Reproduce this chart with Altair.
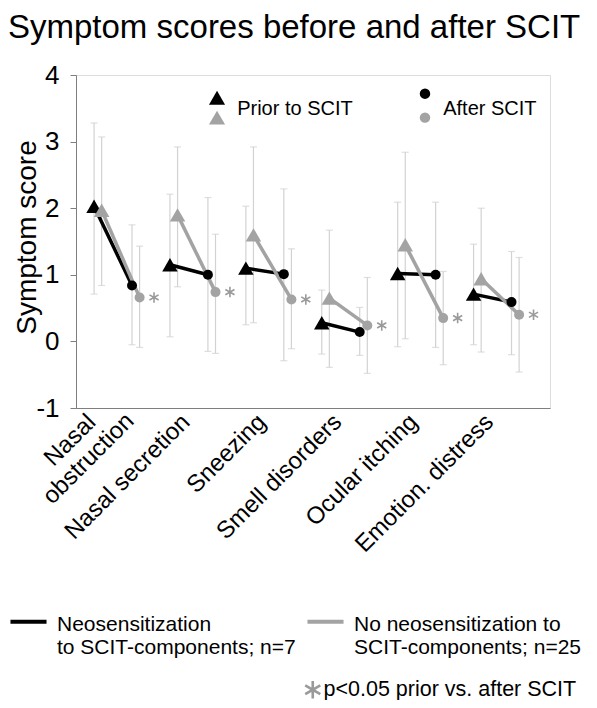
import altair as alt
import pandas as pd

# ---------------- data ----------------
categories = ["Nasal obstruction", "Nasal secretion", "Sneezing",
              "Smell disorders", "Ocular itching", "Emotion. distress"]
group_names = ["Neosensitization to SCIT-components; n=7",
               "No neosensitization to SCIT-components; n=25"]
time_names = ["Prior to SCIT", "After SCIT"]
note_text = "p<0.05 prior vs. after SCIT"

# Neosensitization group (black)
neo_prior_mean = [2.03, 1.15, 1.10, 0.28, 1.02, 0.71]
neo_prior_low = [0.71, 0.07, 0.25, -0.19, -0.08, -0.05]
neo_prior_high = [3.28, 2.21, 2.03, 0.77, 2.09, 1.46]
neo_after_mean = [0.84, 1.00, 1.01, 0.14, 1.00, 0.59]
neo_after_low = [-0.05, -0.15, -0.29, -0.21, -0.09, -0.20]
neo_after_high = [1.75, 2.16, 2.29, 0.51, 2.09, 1.35]

# No neosensitization group (grey)
noneo_prior_mean = [1.97, 1.90, 1.60, 0.65, 1.45, 0.94]
noneo_prior_low = [0.84, 0.82, 0.28, -0.39, 0.04, -0.16]
noneo_prior_high = [3.07, 2.92, 2.92, 1.67, 2.84, 2.00]
noneo_after_mean = [0.66, 0.74, 0.63, 0.24, 0.35, 0.40]
noneo_after_low = [-0.09, -0.18, -0.11, -0.48, -0.35, -0.46]
noneo_after_high = [1.43, 1.61, 1.39, 0.96, 1.05, 1.26]

# significant prior vs. after (no-neosensitization group)
significant = [True, True, True, True, True, True]

# ---------------- table building ----------------
series = {
    (0, 0): (neo_prior_mean, neo_prior_low, neo_prior_high),
    (0, 1): (neo_after_mean, neo_after_low, neo_after_high),
    (1, 0): (noneo_prior_mean, noneo_prior_low, noneo_prior_high),
    (1, 1): (noneo_after_mean, noneo_after_low, noneo_after_high),
}
dodge = {(0, 0): -0.30, (1, 0): -0.20, (0, 1): 0.20, (1, 1): 0.30}
star_dodge = 0.49

rows = []
for g in (0, 1):
    for t in (0, 1):
        m, lo, hi = series[(g, t)]
        for i, c in enumerate(categories):
            rows.append(dict(cat=c, group=group_names[g], time=time_names[t],
                             ypos=m[i], low=lo[i], high=hi[i],
                             xpos=i + dodge[(g, t)], pair=f"{c}|{g}"))
df = pd.DataFrame(rows)

stars = pd.DataFrame([
    dict(xpos=i + star_dodge, ypos=noneo_after_mean[i], note=note_text)
    for i in range(len(categories)) if significant[i]
])

# in-plot legend (data coordinates)
leg_sym = pd.DataFrame([
    dict(xpos=1.32, ypos=3.66, group=group_names[0], kind="tri"),
    dict(xpos=1.32, ypos=3.36, group=group_names[1], kind="tri"),
    dict(xpos=4.06, ypos=3.72, group=group_names[0], kind="dot"),
    dict(xpos=4.06, ypos=3.36, group=group_names[1], kind="dot"),
])
leg_txt = pd.DataFrame([
    dict(xpos=1.585, ypos=3.49, text=time_names[0]),
    dict(xpos=4.30, ypos=3.49, text=time_names[1]),
])

# ---------------- encodings ----------------
FONT = "Liberation Sans"
BLACK, GREY, LIGHT = "#000000", "#a3a3a3", "#d2d2d2"

wrapped = {"Nasal obstruction": ["Nasal", "obstruction"]}
label_list = [wrapped.get(c, c) for c in categories]
label_js = "[" + ",".join(
    ("[" + ",".join(f"'{p}'" for p in l) + "]") if isinstance(l, list) else f"'{l}'"
    for l in label_list) + "]"

x_axis = alt.Axis(
    values=list(range(len(categories))),
    labelExpr=f"{label_js}[round(datum.value)]",
    labelAngle=-45,
    labelAlign={"condition": {"test": "datum.value == 0", "value": "center"}, "value": "right"},
    labelBaseline="middle",
    labelOffset={"condition": {"test": "datum.value == 0", "value": -47}, "value": -7},
    labelPadding={"condition": {"test": "datum.value == 0", "value": 32}, "value": 10},
    labelFontSize=24, labelFont=FONT, labelColor="black",
    labelOverlap=False, labelBound=False, labelFlush=False, labelLimit=0,
    ticks=False, grid=False, domainColor="#7f7f7f", title=None,
)
y_axis = alt.Axis(
    values=[-1, 0, 1, 2, 3, 4], labelExpr="datum.value + ''",
    labelFontSize=26, labelFont=FONT, labelColor="black", labelPadding=11,
    tickSize=6, tickColor="#7f7f7f", domainColor="#7f7f7f", grid=False,
    title="Symptom score", titleFontSize=28, titleFont=FONT,
    titleFontWeight="normal", titleColor="black",
    titleX=-41, titleY=162, titleBaseline="alphabetic",
)
x_scale = alt.Scale(domain=[-0.538, 5.707], nice=False, zero=False)
y_scale = alt.Scale(domain=[-1, 4], nice=False, zero=False)


def X(field="xpos"):
    return alt.X(f"{field}:Q", scale=x_scale, axis=x_axis, title=None)


def Y(field="ypos"):
    return alt.Y(f"{field}:Q", scale=y_scale, axis=y_axis, title="Symptom score")


fill_enc = alt.Fill("group:N", scale=alt.Scale(domain=group_names, range=[BLACK, GREY]), legend=None)

color_legend = alt.Legend(
    orient="none", legendX=-68, legendY=518, direction="horizontal", columns=2,
    columnPadding=3, title=None, padding=0,
    symbolType="M-1,0.44L1,0.44", symbolSize=1300, symbolStrokeWidth=4,
    labelFontSize=21, labelFont=FONT, labelColor="black", labelOffset=8,
    labelLimit=0, labelBaseline="top",
    labelExpr=("datum.label == '" + group_names[0] + "' ? ['Neosensitization', 'to SCIT-components; n=7']"
               " : ['No neosensitization to', 'SCIT-components; n=25']"),
)

ast_path = "M0,-1L0,1M-0.87,-0.5L0.87,0.5M-0.87,0.5L0.87,-0.5"
note_legend = alt.Legend(
    orient="none", legendX=226, legendY=604, title=None, padding=0,
    symbolStrokeColor="#9a9a9a", symbolStrokeWidth=2.6, symbolSize=300,
    symbolFillColor="transparent",
    labelFontSize=21.5, labelFont=FONT, labelColor="black", labelOffset=0, labelLimit=0,
)

# ---------------- layers ----------------
err_rule = alt.Chart(df).mark_rule(color=LIGHT, strokeWidth=1.2).encode(
    x=X(), y=Y("low"), y2="high:Q")
err_cap_lo = alt.Chart(df).mark_tick(color=LIGHT, orient="horizontal", size=7, thickness=1.2).encode(
    x=X(), y=Y("low"))
err_cap_hi = alt.Chart(df).mark_tick(color=LIGHT, orient="horizontal", size=7, thickness=1.2).encode(
    x=X(), y=Y("high"))

lines = alt.Chart(df).mark_line(strokeWidth=3.5).encode(
    x=X(), y=Y(),
    stroke=alt.Stroke("group:N", scale=alt.Scale(domain=group_names, range=[BLACK, GREY]),
                      legend=color_legend),
    detail="pair:N", order="xpos:Q")

tri = alt.Chart(df).transform_filter(f"datum.time == '{time_names[0]}'").mark_point(
    shape="triangle-up", filled=True, size=240, opacity=1).encode(x=X(), y=Y(), fill=fill_enc)
dots = alt.Chart(df).transform_filter(f"datum.time == '{time_names[1]}'").mark_point(
    shape="circle", filled=True, size=100, opacity=1).encode(x=X(), y=Y(), fill=fill_enc)

star_pts = alt.Chart(stars).mark_point(filled=False, stroke="#9a9a9a", strokeWidth=1.6,
                                       size=110, opacity=1).encode(
    x=X(), y=Y(),
    shape=alt.Shape("note:N", scale=alt.Scale(domain=[note_text], range=[ast_path]),
                    legend=note_legend))

leg_tri = alt.Chart(leg_sym).transform_filter("datum.kind == 'tri'").mark_point(
    shape="triangle-up", filled=True, size=260, opacity=1).encode(x=X(), y=Y(), fill=fill_enc)
leg_dot = alt.Chart(leg_sym).transform_filter("datum.kind == 'dot'").mark_point(
    shape="circle", filled=True, size=110, opacity=1).encode(x=X(), y=Y(), fill=fill_enc)
leg_text = alt.Chart(leg_txt).mark_text(align="left", baseline="middle", fontSize=20,
                                        font=FONT, color="black").encode(
    x=X(), y=Y(), text="text:N")

chart = alt.layer(
    err_rule, err_cap_lo, err_cap_hi, lines, tri, dots, star_pts,
    leg_tri, leg_dot, leg_text,
).properties(
    width=474, height=333,
    autosize=alt.AutoSizeParams(type="none"),
    padding={"left": 68, "top": 67, "right": 39, "bottom": 292},
    title=alt.TitleParams(
        text="Symptom scores before and after SCIT", anchor="start",
        fontSize=33, fontWeight="normal", font=FONT, color="black",
        dx=0, offset=17,
    ),
).configure_view(stroke="#7f7f7f", strokeWidth=1).configure(font=FONT)

chart.save("out.html", embed_options={"renderer": "svg", "actions": False})
